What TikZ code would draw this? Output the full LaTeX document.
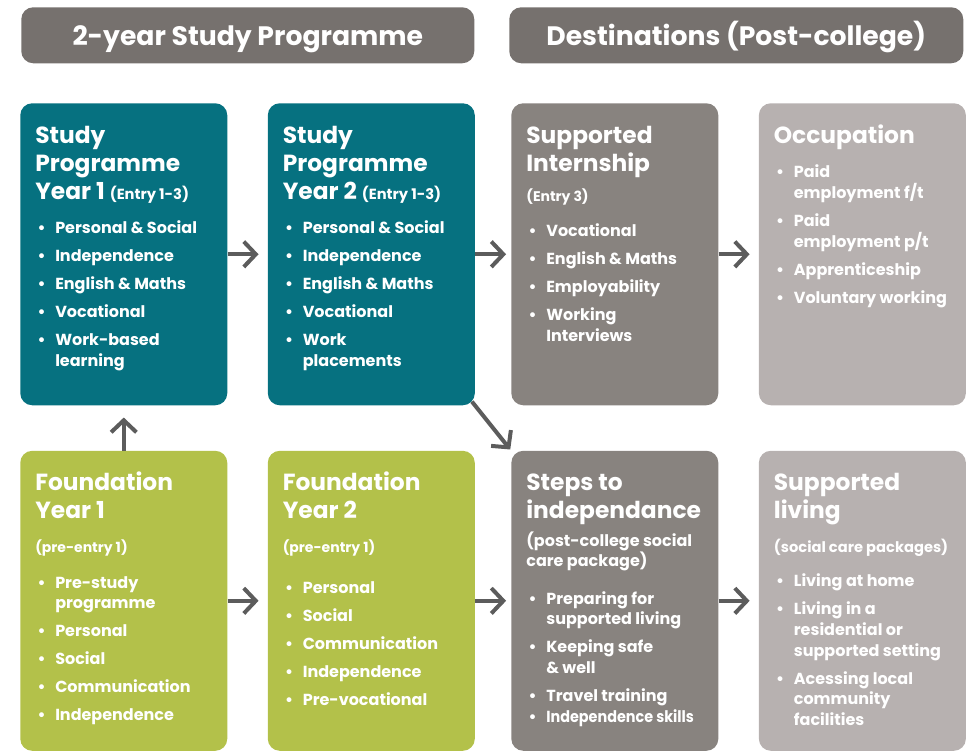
\documentclass[tikz,border=0pt]{standalone}
\usepackage{fontspec}
\setmainfont{Poppins}
\usetikzlibrary{arrows.meta, positioning}

\definecolor{spteal}{HTML}{067180}
\definecolor{fdgreen}{HTML}{B3C14A}
\definecolor{dstdark}{HTML}{88837F}
\definecolor{dstlight}{HTML}{B7B1B0}
\definecolor{hdrgrey}{HTML}{76716E}
\definecolor{arrowgrey}{HTML}{5C5C5C}

% box contents
\newcommand{\bxsmall}{\fontsize{11pt}{13pt}\selectfont}
\newcommand{\bxtitle}[1]{\par{\fontsize{17.5pt}{21pt}\selectfont\bfseries\rule{0pt}{16pt}#1\par}}
\newcommand{\bxnote}[3][0pt]{\par\vspace{#1}{\fontsize{#2}{15pt}\selectfont\bfseries #3\par}}
\newcommand{\bxitem}[2][5.5pt]{\par\vspace{#1}{\fontsize{12pt}{15.5pt}\selectfont\bfseries
  \hangindent=15pt\hangafter=1\noindent\hspace*{1.75pt}\makebox[13.25pt][l]{\textbullet}#2\par}}
\newcommand{\topbox}[1]{\begin{minipage}[t][226.5pt][t]{132.75pt}\raggedright\vspace*{14pt}#1\end{minipage}}
\newcommand{\lowbox}[1]{\begin{minipage}[t][225pt][t]{132.75pt}\raggedright\vspace*{14pt}#1\end{minipage}}

\begin{document}
\begin{tikzpicture}[
    x=0.75pt, y=-0.75pt,
    hdr/.style={rectangle, rounded corners=9pt, fill=hdrgrey, text=white, minimum height=42pt,
      text height=17pt, text depth=1pt, inner sep=0pt, anchor=north west,
      font=\fontsize{20pt}{24pt}\selectfont\bfseries},
    box/.style={rectangle, rounded corners=9pt, text=white, inner xsep=11.25pt, inner ysep=0pt, anchor=north west},
    arrow/.style={-{Straight Barb[length=9pt, width=19pt]}, line width=3pt, draw=arrowgrey}
  ]
    \useasboundingbox (0,0) rectangle (967,750);

    \node[hdr, minimum width=339.75pt] (hprog) at (21,7) {2-year Study Programme};
    \node[hdr, minimum width=340.5pt] (hdest) at (509,7) {Destinations (Post-college)};

    \node[box, fill=spteal] (sy1) at (20,103) {\topbox{%
      \bxtitle{Study\\Programme\\Year 1 {\bxsmall(Entry 1-3)}}\vspace{5pt}
      \bxitem{Personal \& Social}
      \bxitem{Independence}
      \bxitem{English \& Maths}
      \bxitem{Vocational}
      \bxitem{Work-based\newline learning}}};
    \node[box, fill=spteal, right=30pt of sy1] (sy2) {\topbox{%
      \bxtitle{Study\\Programme\\Year 2 {\bxsmall(Entry 1-3)}}\vspace{5pt}
      \bxitem{Personal \& Social}
      \bxitem{Independence}
      \bxitem{English \& Maths}
      \bxitem{Vocational}
      \bxitem{Work\newline placements}}};
    \node[box, fill=dstdark, right=27pt of sy2] (intern) {\topbox{%
      \bxtitle{Supported\\Internship}
      \bxnote[8pt]{10.5pt}{(Entry 3)}\vspace{5pt}
      \bxitem{Vocational}
      \bxitem{English \& Maths}
      \bxitem{Employability}
      \bxitem{Working\newline Interviews}}};
    \node[box, fill=dstlight, right=30pt of intern] (occup) {\topbox{%
      \bxtitle{Occupation}\vspace{5pt}
      \bxitem{Paid\newline employment f/t}
      \bxitem{Paid\newline employment p/t}
      \bxitem{Apprenticeship}
      \bxitem{Voluntary working}}};

    \node[box, fill=fdgreen, below=33.75pt of sy1] (fy1) {\lowbox{%
      \bxtitle{Foundation\\Year 1}
      \bxnote[10pt]{10.5pt}{(pre-entry 1)}\vspace{6pt}
      \bxitem{Pre-study\newline programme}
      \bxitem{Personal}
      \bxitem{Social}
      \bxitem{Communication}
      \bxitem{Independence}}};
    \node[box, fill=fdgreen, below=33.75pt of sy2] (fy2) {\lowbox{%
      \bxtitle{Foundation\\Year 2}
      \bxnote[10pt]{10.5pt}{(pre-entry 1)}\vspace{10pt}
      \bxitem{Personal}
      \bxitem{Social}
      \bxitem{Communication}
      \bxitem{Independence}
      \bxitem{Pre-vocational}}};
    \node[box, fill=dstdark, below=33.75pt of intern] (steps) {\lowbox{%
      \bxtitle{Steps to\\independance}
      \bxnote[4.5pt]{12pt}{(post-college social\\care package)}\vspace{7pt}
      \bxitem{Preparing for\newline supported living}
      \bxitem{Keeping safe\newline\& well}
      \bxitem{Travel training}
      \bxitem[0pt]{\scalebox{0.9}[1]{Independence skills}}}};
    \node[box, fill=dstlight, below=33.75pt of occup] (suplive) {\lowbox{%
      \bxtitle{Supported\\living}
      \bxnote[10pt]{11pt}{(social care packages)}\vspace{5pt}
      \bxitem{Living at home}
      \bxitem{Living in a\newline residential or\newline supported setting}
      \bxitem{Acessing local\newline community\newline facilities}}};

    \draw[arrow, shorten >=6.75pt] (sy1) -- (sy2);
    \draw[arrow, shorten >=3.75pt] (sy2) -- (intern);
    \draw[arrow, shorten >=6.75pt] (intern) -- (occup);
    \draw[arrow, shorten >=6.75pt] (fy1) -- (fy2);
    \draw[arrow, shorten >=3.75pt] (fy2) -- (steps);
    \draw[arrow, shorten >=6.75pt] (steps) -- (suplive);
    \draw[arrow, shorten >=9pt] (fy1) -- (sy1);
    \draw[arrow, shorten <=-3.75pt, shorten >=1pt] (sy2.south east) -- (steps.north west);
  \end{tikzpicture}
\end{document}
